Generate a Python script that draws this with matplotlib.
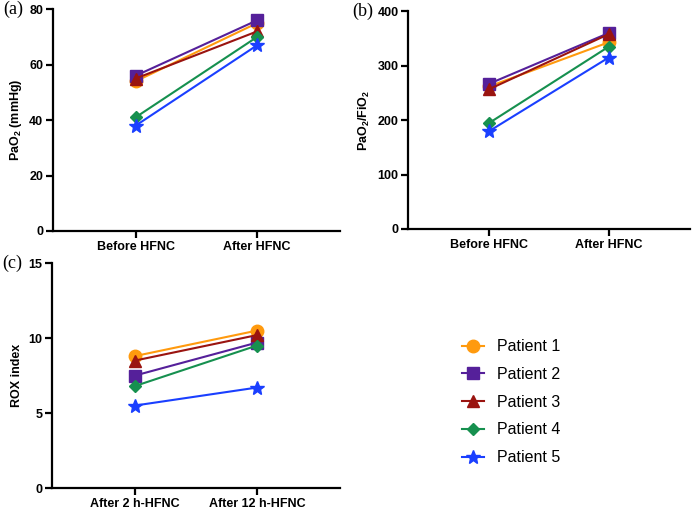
import matplotlib.pyplot as plt

plt.rcParams['font.family'] = 'Liberation Sans'
plt.rcParams['font.size'] = 9
plt.rcParams['mathtext.fontset'] = 'custom'
plt.rcParams['mathtext.rm'] = 'Liberation Sans'
plt.rcParams['mathtext.bf'] = 'Liberation Sans:bold'

patients = ["Patient 1", "Patient 2", "Patient 3", "Patient 4", "Patient 5"]
colors = ["#FF9A0E", "#55209A", "#9A1410", "#16904F", "#1A3FFF"]
markers = ["o", "s", "^", "D", "*"]
msizes = [9, 9, 9, 6, 10]

cats_ab = ["Before HFNC", "After HFNC"]
cats_c = ["After 2 h-HFNC", "After 12 h-HFNC"]

pao2_before = [54, 56, 55, 41, 38]
pao2_after = [75, 76, 72, 70, 67]

pf_before = [262, 267, 257, 195, 180]
pf_after = [343, 360, 358, 335, 315]

rox_2h = [8.8, 7.5, 8.5, 6.8, 5.5]
rox_12h = [10.5, 9.7, 10.2, 9.5, 6.7]

fig = plt.figure(figsize=(6.92, 5.11), dpi=100)
ax_a = fig.add_axes([0.0766, 0.548, 0.4144, 0.434])
ax_b = fig.add_axes([0.590, 0.552, 0.407, 0.426])
ax_c = fig.add_axes([0.075, 0.045, 0.416, 0.440])


def draw(ax, before, after, cats, ylim, yticks, ylabel, letter, lx):
    for i in range(len(patients)):
        ax.plot([0, 1], [before[i], after[i]], color=colors[i], marker=markers[i],
                markersize=msizes[i], linewidth=1.5, label=patients[i])
    ax.set_xlim(-0.68, 1.68)
    ax.set_ylim(*ylim)
    ax.set_yticks(yticks)
    ax.set_xticks([0, 1])
    ax.set_xticklabels(cats, fontweight='bold')
    for t in ax.get_yticklabels():
        t.set_fontweight('bold')
    ax.set_ylabel(ylabel, fontweight='bold')
    for s in ['top', 'right']:
        ax.spines[s].set_visible(False)
    for s in ['left', 'bottom']:
        ax.spines[s].set_linewidth(1.6)
    ax.tick_params(width=1.6, length=5, pad=2)
    ax.text(lx, 1.0, letter, transform=ax.transAxes, fontsize=13,
            family='Liberation Serif', va='center', ha='left')


draw(ax_a, pao2_before, pao2_after, cats_ab, (0, 80), [0, 20, 40, 60, 80],
     r'$\mathbf{PaO_2}$ (mmHg)', '(a)', -0.175)
draw(ax_b, pf_before, pf_after, cats_ab, (0, 400), [0, 100, 200, 300, 400],
     r'$\mathbf{PaO_2/FiO_2}$', '(b)', -0.2)
draw(ax_c, rox_2h, rox_12h, cats_c, (0, 15), [0, 5, 10, 15],
     'ROX index', '(c)', -0.172)

handles, labels = ax_a.get_legend_handles_labels()
fig.legend(handles, labels, loc='center left', bbox_to_anchor=(0.647, 0.213),
           frameon=False, fontsize=11.5, labelspacing=0.8, handlelength=1.4)

plt.savefig("out.png", dpi=100)
